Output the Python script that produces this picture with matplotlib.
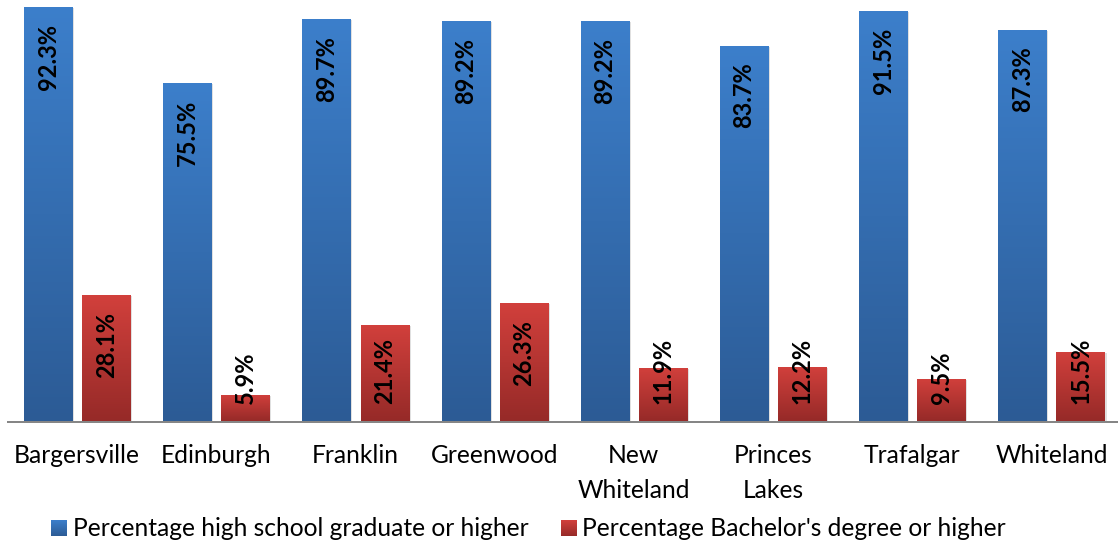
import numpy as np
import matplotlib
matplotlib.use('Agg')
import matplotlib.pyplot as plt
from matplotlib.patches import Rectangle
from matplotlib.colors import LinearSegmentedColormap
import matplotlib.transforms as mtransforms

categories = ["Bargersville", "Edinburgh", "Franklin", "Greenwood",
              "New\nWhiteland", "Princes\nLakes", "Trafalgar", "Whiteland"]
hs_grad = [92.3, 75.5, 89.7, 89.2, 89.2, 83.7, 91.5, 87.3]
bachelor = [28.1, 5.9, 21.4, 26.3, 11.9, 12.2, 9.5, 15.5]
series_names = ["Percentage high school graduate or higher",
                "Percentage Bachelor's degree or higher"]

plt.rcParams['font.family'] = ['Lato', 'DejaVu Sans']

W, H = 1118, 546
DPI = 100
PX = 72.0 / DPI  # points per pixel

blue_top, blue_bot = "#3C7FCB", "#2C5B95"
red_top, red_bot = "#D2403C", "#962A28"

fig = plt.figure(figsize=(W / DPI, H / DPI), dpi=DPI)
ax = fig.add_axes([7.5 / W, 124.5 / H, 1113.5 / W, 449 / H])
ax.set_xlim(-0.5, 7.5)
ax.set_ylim(0, 100)

x = np.arange(len(categories))
bw = 0.345
off = 0.209

grad = np.linspace(0, 1, 256).reshape(-1, 1)


def gradient_bars(xs, vals, top, bot):
    bars = ax.bar(xs, vals, width=bw, color=bot, zorder=2, linewidth=0)
    cmap = LinearSegmentedColormap.from_list("g", [bot, top])
    shadow_tr = ax.transData + mtransforms.ScaledTranslation(2 / DPI, -1 / DPI, fig.dpi_scale_trans)
    for b in bars:
        x0, w, h = b.get_x(), b.get_width(), b.get_height()
        sh = Rectangle((x0, 0), w, h, transform=shadow_tr, facecolor="black",
                       alpha=0.12, zorder=1.5, linewidth=0)
        ax.add_patch(sh)
        im = ax.imshow(grad, cmap=cmap, extent=[x0, x0 + w, 0, h], origin="lower",
                       aspect="auto", zorder=2.5, interpolation="bilinear")
        im.set_clip_path(b)
    return bars


bars1 = gradient_bars(x - off, hs_grad, blue_top, blue_bot)
bars2 = gradient_bars(x + off, bachelor, red_top, red_bot)
ax.set_xlim(-0.5, 7.5)
ax.set_ylim(0, 100)

for s in ["top", "left", "right"]:
    ax.spines[s].set_visible(False)
ax.spines["bottom"].set_color("#868686")
ax.spines["bottom"].set_linewidth(2 * PX)
ax.spines["bottom"].set_zorder(5)
ax.set_yticks([])
ax.set_xticks(x)
ax.set_xticklabels(categories, fontsize=17.7, color="black", linespacing=1.62)
ax.tick_params(axis="x", length=0, pad=16)

label_fs = 17
anns = []
for bars, vals in [(bars1, hs_grad), (bars2, bachelor)]:
    for b, v in zip(bars, vals):
        cx = b.get_x() + b.get_width() / 2
        a = ax.annotate(f"{v:.1f}%", xy=(cx, v), xytext=(0, -17 * PX),
                        textcoords="offset points", rotation=90, ha="center",
                        va="top", fontsize=label_fs, fontweight="bold",
                        color="black", zorder=6, annotation_clip=False)
        anns.append((a, cx))

fig.canvas.draw()
renderer = fig.canvas.get_renderer()
base = ax.transData.transform((0, 0))[1]
for a, cx in anns:
    bb = a.get_window_extent(renderer)
    if bb.y0 < base + 18:
        a.xy = (cx, 0)
        a.xyann = (0, 18 * PX)
        a.set_va("bottom")

# legend
fill_cols = [(blue_top, blue_bot), (red_top, red_bot)]
marker_x = [51, 561]
text_x = [73, 582]
for name, (t, bcol), mx, tx in zip(series_names, fill_cols, marker_x, text_x):
    lax = fig.add_axes([mx / W, (H - 536) / H, 16 / W, 16 / H])
    lax.imshow(grad, cmap=LinearSegmentedColormap.from_list("g", [bcol, t]),
               origin="lower", aspect="auto", extent=[0, 1, 0, 1])
    lax.set_axis_off()
    fig.text(tx / W, (H - 536) / H, name, fontsize=17.7, va="baseline", ha="left",
             color="black")

fig.savefig("out.png", dpi=DPI)
